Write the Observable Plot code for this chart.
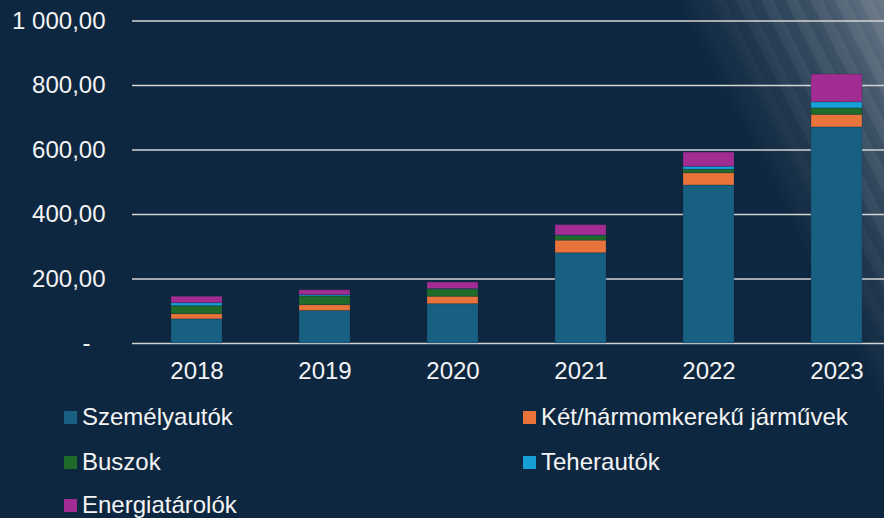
<!DOCTYPE html>
<html>
<head>
<meta charset="utf-8">
<script src="https://cdn.jsdelivr.net/npm/d3@7"></script>
<script src="https://cdn.jsdelivr.net/npm/@observablehq/plot@0.6"></script>
<style>
  html, body { margin: 0; padding: 0; }
  body { width: 884px; height: 518px; overflow: hidden; background: #0e2740; position: relative;
         font-family: "Liberation Sans", Arial, sans-serif; color: #f4f4f4; }
  #glow { position: absolute; left: 0; top: 0; width: 884px; height: 518px; pointer-events: none;
          background: linear-gradient(63deg, rgba(255,255,255,0) 835px, rgba(255,255,255,0.07) 885px, rgba(255,255,255,0.2) 960px, rgba(255,255,255,0.38) 1023px); }
  #stripes { position: absolute; left: 0; top: 0; width: 884px; height: 518px; pointer-events: none;
          background: repeating-linear-gradient(63deg, rgba(255,255,255,0) 0px, rgba(255,255,255,0) 11px, rgba(255,255,255,0.06) 11px, rgba(255,255,255,0.06) 22px);
          -webkit-mask-image: linear-gradient(63deg, rgba(0,0,0,0) 840px, rgba(0,0,0,1) 930px);
          mask-image: linear-gradient(63deg, rgba(0,0,0,0) 840px, rgba(0,0,0,1) 930px); }
  #chart { position: absolute; left: 0; top: 0; }
  .legend { position: absolute; font-size: 24px; line-height: 24px; white-space: nowrap; }
  .legend span.sw { display: inline-block; width: 13px; height: 13px; margin-right: 5px; vertical-align: 1px; }
</style>
</head>
<body>
<div id="glow"></div>
<div id="stripes"></div>
<div id="chart"></div>
<div id="legend"></div>
<script>
const years = ["2018", "2019", "2020", "2021", "2022", "2023"];
const series = ["Személyautók", "Két/hármomkerekű járművek", "Buszok", "Teherautók", "Energiatárolók"];
const colors = ["#176082", "#e8743b", "#1e6b2a", "#17a0d8", "#a32c93"];
const szemelyautok = [75, 101, 122, 280, 490, 670];
const ketharomkereku = [16, 18, 23, 39, 38, 39];
const buszok = [25, 27, 23, 15, 11, 20];
const teherautok = [9, 4, 1, 1, 9, 19];
const energiatarolok = [20, 15, 20, 32, 44, 86];
const yTicks = [0, 200, 400, 600, 800, 1000];

const valuesBySeries = [szemelyautok, ketharomkereku, buszok, teherautok, energiatarolok];
const data = [];
series.forEach((s, si) => years.forEach((y, yi) => data.push({year: y, series: s, value: valuesBySeries[si][yi]})));

const fmt = d => {
  const s = d.toFixed(2).replace(".", ",");
  const [i, f] = s.split(",");
  return i.replace(/\B(?=(\d{3})+(?!\d))/g, " ") + "," + f;
};

const chart = Plot.plot({
  width: 884,
  height: 390,
  marginLeft: 132,
  marginRight: 0,
  marginTop: 20.5,
  marginBottom: 47,
  style: {background: "transparent", color: "#f4f4f4", fontFamily: "'Liberation Sans', Arial, sans-serif", fontSize: "24px", overflow: "hidden"},
  x: {domain: years, range: [132, 902], paddingInner: 0.6, paddingOuter: 0.3, label: null},
  y: {domain: [0, 1000], label: null},
  color: {domain: series, range: colors},
  marks: [
    Plot.ruleY(yTicks, {stroke: "#d4d4d4", strokeWidth: 1.6}),
    Plot.barY(data, {x: "year", y: "value", fill: "series", order: series, stroke: "#0e2740", strokeOpacity: 0.25, strokeWidth: 1}),
    Plot.axisY(yTicks.filter(d => d > 0), {tickSize: 0, tickPadding: 27, tickFormat: fmt, fill: "#f4f4f4", fontSize: 24}),
    Plot.text([0], {y: d => d, frameAnchor: "left", dx: -42, textAnchor: "end", text: () => "-", fill: "#f4f4f4", fontSize: 24}),
    Plot.axisX({tickSize: 0, tickPadding: 18, fill: "#f4f4f4", fontSize: 24})
  ]
});
document.getElementById("chart").appendChild(chart);

const legendPos = [[64, 405], [523, 405], [64, 450], [523, 450], [64, 493]];
const lg = document.getElementById("legend");
series.forEach((s, i) => {
  const d = document.createElement("div");
  d.className = "legend";
  d.style.left = legendPos[i][0] + "px";
  d.style.top = legendPos[i][1] + "px";
  d.innerHTML = `<span class="sw" style="background:${colors[i]}"></span>${s}`;
  lg.appendChild(d);
});
</script>
</body>
</html>
